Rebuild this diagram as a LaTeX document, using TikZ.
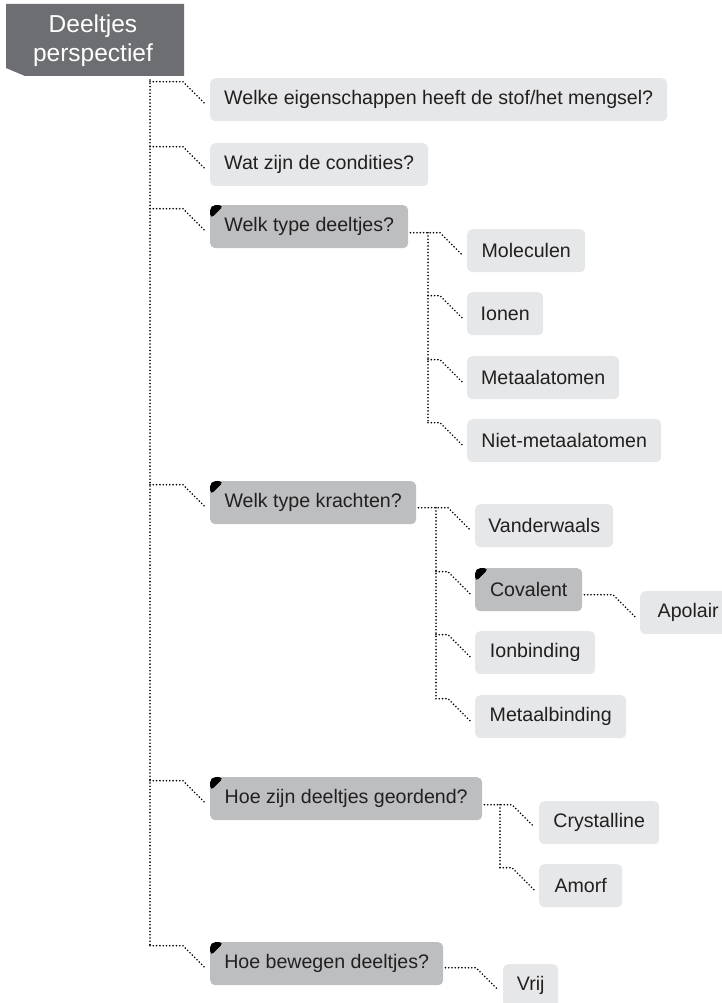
\documentclass[tikz,border=0pt]{standalone}
\usepackage{fontspec}
\setmainfont{Liberation Sans}
\usetikzlibrary{calc}
\definecolor{lightbox}{HTML}{E6E7E8}
\definecolor{darkbox}{HTML}{BCBEC0}
\definecolor{headbox}{HTML}{6D6E71}
\definecolor{txt}{HTML}{231F20}
\tikzset{
 box/.style={rectangle, rounded corners=5pt, fill=lightbox, inner sep=0pt, minimum height=43pt, anchor=north west, text=txt, font=\fontsize{19.6}{23}\selectfont},
 dbox/.style={box, fill=darkbox, path picture={\fill[black] (path picture bounding box.north west) -- ++(14pt,0pt) -- ++(-14pt,-14pt) -- cycle;}},
 conn/.style={line width=1.8pt, line cap=round, dash pattern=on 0pt off 3.3pt, black},
}
\newcommand\brn[2]{\path (#2.west) ++(0,-18) coordinate (#2e);
 \draw[conn] (#2e -| #1) -- ([xshift=-27pt]#2e) -- ([shift={(-5pt,-4pt)}]#2.west);}
\begin{document}
\begin{tikzpicture}[x=1pt,y=-1pt]
\useasboundingbox (0,0) rectangle (722,1003);
\clip (0,0) rectangle (722,1003);
% header
\fill[headbox] (6,4) -- (184,4) -- (184,76) -- (25,76) -- (6,68) -- cycle;
\node[text=white, font=\fontsize{24.5}{29}\selectfont, align=center, inner sep=0pt] (hdr) at (93,41) {Deeltjes\\perspectief};
% main boxes
\node[box, minimum width=457pt] (b1) at (210,78) {Welke eigenschappen heeft de stof/het mengsel?};
\node[box, minimum width=218pt] (b2) at (210,143) {Wat zijn de condities?};
\node[dbox, minimum width=198pt] (b3) at (210,205) {Welk type deeltjes?};
\node[dbox, minimum width=206pt] (b4) at (210,481) {Welk type krachten?};
\node[dbox, minimum width=272pt] (b5) at (210,777) {Hoe zijn deeltjes geordend?};
\node[dbox, minimum width=233pt] (b6) at (210,942) {Hoe bewegen deeltjes?};
% deeltjes
\node[box, minimum width=118pt] (m1) at (467,229) {Moleculen};
\node[box, minimum width=76pt] (m2) at (467,292) {Ionen};
\node[box, minimum width=152pt] (m3) at (467,356) {Metaalatomen};
\node[box, minimum width=194pt] (m4) at (467,419) {Niet-metaalatomen};
% krachten
\node[box, minimum width=138pt] (k1) at (475,504) {Vanderwaals};
\node[dbox, minimum width=107pt] (k2) at (475,568) {Covalent};
\node[box, minimum width=120pt] (k3) at (475,631) {Ionbinding};
\node[box, minimum width=151pt] (k4) at (475,695) {Metaalbinding};
\node[box, minimum width=96pt] (ap) at (640,591) {Apolair};
% geordend
\node[box, minimum width=120pt] (o1) at (539,801) {Crystalline};
\node[box, minimum width=83pt] (o2) at (539,864) {Amorf};
% bewegen
\node[box, minimum width=55pt] (v) at (503,964) {Vrij};
% main trunk
\coordinate (tr) at (150,80);
\brn{tr}{b1}
\brn{tr}{b2}
\brn{tr}{b3}
\brn{tr}{b4}
\brn{tr}{b5}
\brn{tr}{b6}
\draw[conn] (tr) -- (tr |- b6e);
% deeltjes branches
\coordinate (p3) at ([shift={(2pt,-5pt)}]b3.east);
\coordinate (s3) at (428,0);
\brn{p3}{m1}
\brn{s3}{m2}
\brn{s3}{m3}
\brn{s3}{m4}
\draw[conn] (s3 |- m1e) -- (s3 |- m4e);
% krachten branches
\coordinate (p4) at ([shift={(2pt,-5pt)}]b4.east);
\coordinate (s4) at (436,0);
\brn{p4}{k1}
\brn{s4}{k2}
\brn{s4}{k3}
\brn{s4}{k4}
\draw[conn] (s4 |- k1e) -- (s4 |- k4e);
\coordinate (p7) at ([shift={(2pt,-5pt)}]k2.east);
\brn{p7}{ap}
% geordend branches
\coordinate (p5) at ([shift={(2pt,-5pt)}]b5.east);
\coordinate (s5) at (500,0);
\brn{p5}{o1}
\brn{s5}{o2}
\draw[conn] (s5 |- o1e) -- (s5 |- o2e);
% bewegen branch
\coordinate (p6) at ([shift={(2pt,-5pt)}]b6.east);
\brn{p6}{v}
\end{tikzpicture}
\end{document}
